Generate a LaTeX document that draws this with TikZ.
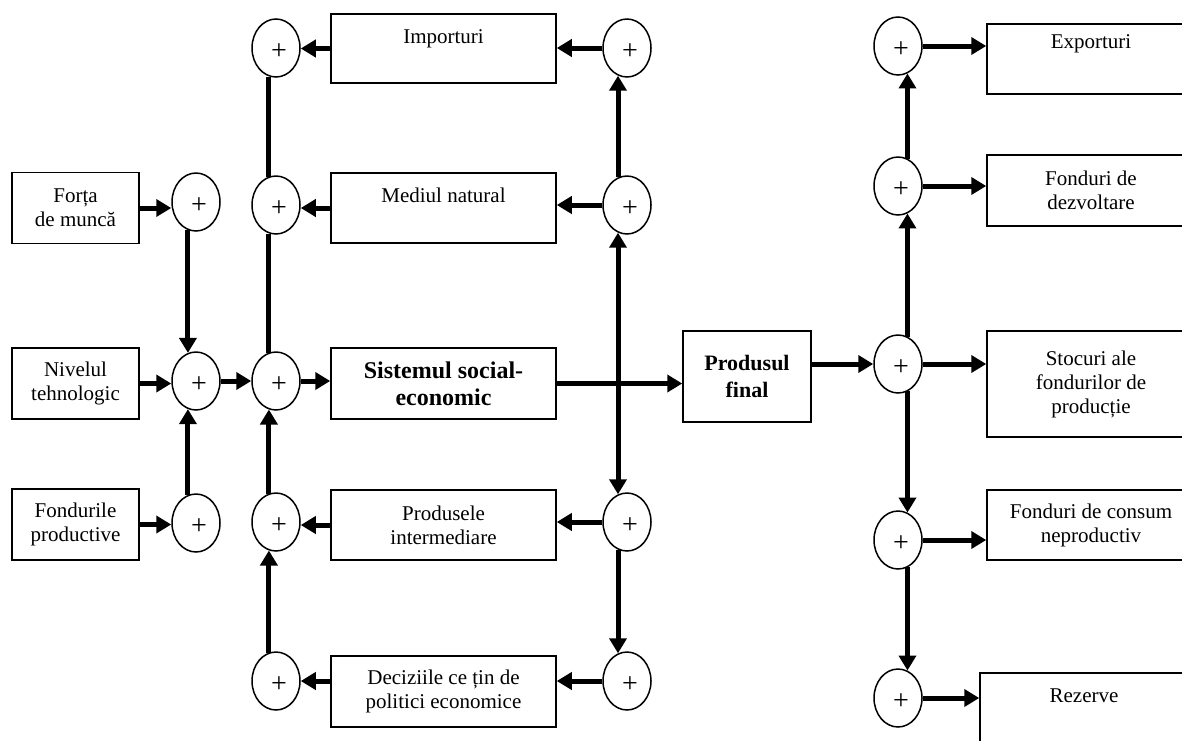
\documentclass[tikz,border=0pt]{standalone}
\usepackage{fontspec}
\setmainfont{Liberation Serif}
\usetikzlibrary{shapes.geometric,arrows.meta}
\begin{document}
\begin{tikzpicture}[x=0.5pt,y=-0.5pt,
  every node/.style={font=\fontsize{10.5}{12}\selectfont},
  box/.style={draw,line width=0.75pt,inner sep=0pt,align=center,fill=white},
  lbox/.style={box,minimum width=63.5pt,minimum height=35.5pt},
  mbox/.style={box,minimum width=112.5pt,minimum height=35pt},
  rbox/.style={box,minimum width=104pt,minimum height=35pt},
  sumc/.style={draw,ellipse,line width=0.75pt,inner sep=0pt,minimum width=24pt,minimum height=29pt,fill=white,
    font=\fontsize{14}{14}\selectfont,text depth=0pt},
  lbl/.style={anchor=base,inner sep=0pt},
  arr/.style={line width=2.5pt,-{Triangle[length=7.5pt,width=8.5pt]}},
  ln/.style={line width=2.5pt}]
\useasboundingbox (0,0) rectangle (1182,740);

% left boxes
\node[lbox] (fo)  at (75.5,208)   {Forța\\de muncă};
\node[lbox] (niv) at (75.5,383.5) {Nivelul\\tehnologic};
\node[lbox] (fp)  at (75.5,524.5) {Fondurile\\productive};

% middle boxes
\node[mbox,minimum height=34.5pt] (imp) at (443.5,48.5) {};
\node[lbl] (timp) at ([yshift=-15pt]imp.north) {Importuri};
\node[mbox] (med) at (443.5,208) {};
\node[lbl] (tmed) at ([yshift=-15pt]med.north) {Mediul natural};
\node[mbox,minimum height=35.5pt,font=\fontsize{12}{13.5}\selectfont\bfseries] (sys) at (443.5,383.5) {Sistemul social-\\economic};
\node[mbox] (pi) at (443.5,525) {Produsele\\intermediare};
\node[mbox,minimum height=35.5pt] (dec) at (443.5,691.5) {Deciziile ce țin de\\politici economice};

% final product
\node[box,minimum width=64pt,minimum height=45.5pt,font=\fontsize{11}{13.5}\selectfont\bfseries] (pf) at (747,376.5) {Produsul\\final};

% right boxes
\node[rbox] (exp) at (1091,59) {};
\node[lbl] (texp) at ([yshift=-12.5pt]exp.north) {Exporturi};
\node[rbox,minimum height=35.5pt] (fdz) at (1091,190.5) {Fonduri de\\dezvoltare};
\node[rbox,minimum height=53pt] (sto) at (1091,384) {Stocuri ale\\fondurilor de\\producție};
\node[rbox] (fcn) at (1091,525) {Fonduri de consum\\neproductiv};
\node[rbox,minimum height=40pt] (rez) at (1084,713) {};
\node[lbl] (trez) at ([yshift=-15pt]rez.north) {Rezerve};

% summing junctions
\foreach \n/\x/\y in {c1a/196/202, c1b/196/381, c1c/196/523,
  c2a/276/48, c2b/276/205, c2c/276/381, c2d/276/522, c2e/276/681,
  c3a/627/48, c3b/627/205, c3d/627/522, c3e/627/681,
  cr1/898/46, cr2/898/186, cr3/898/364, cr4/898/540, cr5/898/698}
  \node[sumc] (\n) at (\x,\y) {\raisebox{-4pt}{\hspace*{3pt}+}};

% left inputs
\draw[arr] (fo.east) -- (fo.east -| c1a.west);
\draw[arr] (niv.east) -- (niv.east -| c1b.west);
\draw[arr] (fp.east) -- (fp.east -| c1c.west);
\draw[arr] (c1a.-106.5) -- (c1b.106.5);
\draw[arr] (c1c.106.5) -- (c1b.-106.5);
\draw[arr] (c1b.east) -- (c2c.west);
\draw[arr] (c2c.east) -- (c2c.east -| sys.west);

% column 2
\draw[ln] (c2a.-104.5) -- (c2b.104.5);
\draw[ln] (c2b.-104.5) -- (c2c.104.5);
\draw[arr] (c2d.104.5) -- (c2c.-104.5);
\draw[arr] (c2e.104.5) -- (c2d.-104.5);
\draw[arr] (imp.west) -- (imp.west -| c2a.east);
\draw[arr] (med.west) -- (med.west -| c2b.east);
\draw[arr] (pi.west) -- (pi.west -| c2d.east);
\draw[arr] (c2e.east -| dec.west) -- (c2e.east);

% main flow and column 3
\draw[arr] (sys.east) -- (sys.east -| pf.west);
\coordinate (j) at (c3b.-108.5 |- sys.east);
\draw[arr] (j) -- (c3b.-108.5);
\draw[arr] (j) -- (c3d.108.5);
\draw[arr] (c3b.108.5) -- (c3a.-108.5);
\draw[arr] (c3d.-108.5) -- (c3e.108.5);
\draw[arr] (c3a.west) -- (c3a.west -| imp.east);
\draw[arr] (c3b.west) -- (c3b.west -| med.east);
\draw[arr] (c3d.west) -- (c3d.west -| pi.east);
\draw[arr] (c3e.west) -- (c3e.west -| dec.east);

% right part
\draw[arr] (cr3.west -| pf.east) -- (cr3.west);
\draw[arr] (cr3.71.5) -- (cr2.-71.5);
\draw[arr] (cr2.71.5) -- (cr1.-71.5);
\draw[arr] (cr3.-71.5) -- (cr4.71.5);
\draw[arr] (cr4.-71.5) -- (cr5.71.5);
\draw[arr] (cr1.east) -- (cr1.east -| exp.west);
\draw[arr] (cr2.east) -- (cr2.east -| fdz.west);
\draw[arr] (cr3.east) -- (cr3.east -| sto.west);
\draw[arr] (cr4.east) -- (cr4.east -| fcn.west);
\draw[arr] (cr5.east) -- (cr5.east -| rez.west);
\end{tikzpicture}
\end{document}
